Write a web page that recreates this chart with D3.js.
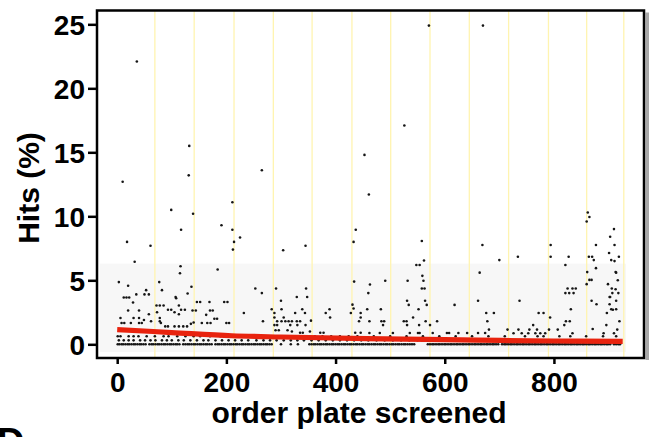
<!DOCTYPE html>
<html>
<head>
<meta charset="utf-8">
<script src="https://cdn.jsdelivr.net/npm/d3@7"></script>
<style>
  body { margin: 0; background: #fff; }
  text { font-family: "Liberation Sans", Arial, Helvetica, sans-serif; font-weight: bold; fill: #000; }
</style>
</head>
<body>
<svg id="chart"></svg>
<script>
/* données */
const yTicks = [0, 5, 10, 15, 20, 25]
const xTicks = [0, 200, 400, 600, 800]

// limites des lots de plaques (lignes jaunes)
const batchEdges = [69, 141, 214, 286, 357, 430, 501, 573, 645, 717, 790, 860, 928]

// plaques sans hit
const zeroX = [1, 4, 8, 11, 15, 19, 22, 26, 30, 33, 37, 41, 44, 48, 52, 59, 63, 66, 70, 74, 77, 81, 85, 88, 92, 96,
  99, 103, 107, 110, 114, 121, 125, 129, 132, 136, 140, 143, 147, 151, 154, 158, 162, 165, 169, 173, 180, 184,
  187, 191, 195, 198, 202, 206, 209, 213, 217, 220, 224, 228, 231, 235, 239, 242, 246, 250, 253, 257, 261, 264,
  268, 272, 275, 279, 283, 300, 318, 331, 352, 356, 360, 363, 367, 371, 374, 378, 382, 385, 389, 393, 396, 400,
  404, 407, 411, 415, 418, 422, 426, 429, 433, 437, 440, 444, 448, 451, 455, 459, 462, 466, 470, 473, 477, 481,
  484, 488, 492, 495, 499, 503, 506, 510, 514, 517, 521, 525, 528, 532, 536, 540, 544, 569, 573, 577, 580, 584,
  588, 591, 595, 599, 602, 606, 610, 613, 617, 621, 624, 628, 632, 635, 639, 643, 646, 650, 654, 657, 661, 665,
  668, 672, 676, 679, 683, 687, 690, 694, 698, 705, 709, 712, 716, 720, 723, 727, 731, 734, 738, 742, 745, 749,
  753, 756, 760, 764, 767, 771, 775, 778, 782, 786, 789, 793, 797, 800, 804, 808, 811, 815, 819, 822, 826, 830,
  833, 837, 841, 844, 848, 852, 855, 859, 863, 866, 870, 874, 877, 881, 885, 888, 892, 896, 899, 903, 910, 914,
  918, 921]

// plaques à 1 hit (~0.31 %) et 2 hits (~0.63 %)
const oneHitX = [3, 12, 21, 30, 42, 51, 61, 70, 82, 91, 100, 112, 122, 134, 146, 158, 167, 180, 192, 204, 216, 228,
  240, 255, 268, 280, 292, 305, 318, 330, 342, 356, 369, 382, 395, 408, 421, 434, 447, 460, 475, 490, 505, 520,
  535, 550, 565, 580, 595, 610, 625, 640, 655, 670, 685, 700, 715, 730, 745, 760, 775, 790, 805, 820, 835, 850,
  865, 880, 895, 912]
const twoHitX = [1, 6, 21, 30, 39, 54, 69, 85, 94, 110, 125, 140, 152, 170, 189, 207, 222, 236, 250, 262, 276, 290,
  303, 316, 332, 348, 362, 376, 392, 408, 424, 440, 470, 500, 530, 560, 590, 620, 650, 680, 710, 747, 770, 781,
  810, 830, 859, 890, 914]

// autres plaques : ordre et % de hits
const hitX = [10, 36, 132, 131, 99, 139, 211, 265, 571, 670, 526, 453, 461, 862, 865, 860,
  18, 117, 61, 32, 191, 211, 214, 212, 225, 116, 115, 184, 304, 345, 437, 433, 434,
  558, 562, 554, 548, 669, 700, 734, 794, 794, 827, 910, 903, 877, 911, 901, 864, 870, 919, 873, 905, 911,
  821, 664, 877, 861, 913, 865, 869, 860, 899, 825, 834, 840, 821, 828, 836, 906, 907, 918, 902, 737, 869,
  878, 902, 905, 914, 831, 897, 772, 781, 793, 822, 829, 920, 819, 762, 715, 735, 755, 769, 791, 807, 896, 916,
  726, 741, 753, 766, 775, 784, 834, 891, 910, 914, 917, 913, 903, 914, 908, 871,
  559, 561, 558, 563, 532, 491, 463, 460, 661, 618, 531, 534, 564, 567, 552, 458, 483, 542, 462, 484, 489, 525,
  530, 565, 586, 676, 690, 678, 681, 487, 531, 553, 573, 462, 481, 505, 536, 551, 554, 578, 604, 608, 625, 641,
  661, 674,
  253, 265, 291, 346, 300, 329, 348, 232, 283, 301, 339, 288, 326, 344, 267, 288, 305, 293, 301, 308, 314, 320,
  329, 335, 355, 288, 293, 317, 330, 345, 290, 296, 312, 320, 335, 340, 353, 372, 378, 382, 389, 390, 431, 433,
  428, 446, 443, 446, 436, 446,
  3, 20, 77, 82, 53, 35, 50, 58, 136, 12, 17, 22, 108, 29, 72, 78, 85, 113, 146, 152, 169, 196, 202, 20, 40, 58,
  73, 93, 99, 105, 113, 117, 124, 138, 144, 170, 175, 163, 6, 30, 40, 49, 62, 78, 78, 8, 13, 25, 40, 45, 80, 88,
  93, 105, 113, 121, 128, 135, 140, 155, 165, 171, 178, 183, 200, 205, 129, 107]
const hitY = [12.7, 22.1, 15.5, 13.2, 10.5, 10.2, 11.1, 13.6, 24.9, 24.9, 17.1, 14.8, 11.7, 10.3, 9.95, 9.6,
  8.0, 8.95, 7.7, 6.45, 9.3, 8.95, 8.0, 7.4, 8.35, 6.1, 5.55, 5.85, 7.35, 7.7, 8.95, 8.0, 4.9,
  8.07, 6.55, 6.2, 6.2, 7.76, 6.58, 6.84, 7.76, 6.84, 6.84, 9.0, 8.4, 7.76, 7.76, 7.13, 6.84, 6.84, 6.84, 6.58, 6.58, 6.5,
  6.2, 5.6, 5.95, 5.64, 5.64, 5.03, 5.03, 4.7, 4.7, 4.36, 4.36, 4.36, 4.0, 4.0, 4.0, 4.36, 4.0, 4.0, 3.7, 3.4, 3.4,
  3.13, 3.13, 2.74, 2.74, 2.74, 2.45, 2.45, 2.45, 2.1, 1.8, 1.8, 1.8, 1.5, 1.5, 1.15, 1.15, 1.15, 1.15, 1.15, 1.15, 1.5, 1.15,
  0.86, 0.86, 0.86, 0.86, 0.86, 0.86, 0.86, 0.86, 0.86, 5.6, 5.0, 4.3, 3.7, 3.4, 2.7, 1.2,
  5.35, 4.96, 4.36, 4.36, 4.96, 4.96, 4.67, 4.0, 3.4, 3.08, 3.4, 3.08, 3.4, 3.08, 2.74, 2.74, 2.74, 2.1, 1.8, 1.8, 1.8, 1.8,
  1.8, 1.8, 1.8, 2.45, 2.45, 1.8, 1.15, 1.5, 1.5, 1.5, 1.5, 0.88, 0.88, 0.88, 0.88, 0.88, 0.88, 0.88, 0.88, 0.88, 0.88, 0.88,
  0.88, 0.88,
  4.36, 4.0, 4.36, 4.36, 3.4, 3.7, 3.7, 2.45, 2.74, 2.74, 2.74, 2.45, 2.45, 2.45, 1.8, 2.1, 2.1, 1.8, 1.8, 1.8, 1.8, 1.8,
  1.8, 1.8, 1.85, 1.5, 1.5, 1.5, 1.5, 1.5, 1.1, 1.1, 1.1, 1.0, 0.9, 0.9, 1.0, 0.9, 0.9, 2.45, 2.74, 2.1, 3.1, 2.8,
  2.45, 2.45, 1.8, 2.1, 0.9, 0.9,
  4.86, 4.57, 4.86, 4.23, 4.23, 3.9, 3.9, 3.9, 4.5, 3.66, 3.66, 3.66, 3.6, 3.27, 3.03, 3.03, 3.03, 3.03, 3.3, 3.3, 3.3, 3.3, 3.3, 2.64, 2.64, 2.35,
  2.5, 2.7, 2.7, 2.5, 2.35, 2.7, 2.7, 2.64, 2.64, 2.64, 2.64, 2.3, 2.05, 2.05, 2.05, 1.9, 1.8, 2.05, 1.8, 1.67, 1.67, 1.67, 1.67, 1.67, 1.67, 1.4,
  1.4, 1.4, 1.4, 1.4, 1.4, 1.6, 1.7, 1.67, 1.67, 1.67, 2.0, 2.0, 1.67, 1.67, 3.97, 3.7]

// courbe de tendance (rouge)
const trendX = [0, 100, 210, 300, 457, 600, 703, 800, 926]
const trendY = [1.15, 0.92, 0.67, 0.57, 0.44, 0.36, 0.30, 0.26, 0.23]

const width = 655, height = 437
const frame = {left: 97, right: 644, top: 10.5, bottom: 358}

let svg = d3.select('#chart').attr('width', width).attr('height', height)

/* échelles */
const xScale = d3.scaleLinear()
                 .domain([-37, 965])
                 .range([frame.left, frame.right])
const yScale = d3.scaleLinear()
                 .domain([-1.07, 26.08])
                 .range([frame.bottom, frame.top])

/* fond gris très léger de la zone dense */
svg.append('rect')
   .attr('x', frame.left + 3)
   .attr('y', yScale(6.3))
   .attr('width', xScale(932) - frame.left - 3)
   .attr('height', yScale(-0.6) - yScale(6.3))
   .attr('fill', '#f7f7f7')

/* lignes jaunes des lots */
svg.selectAll('line.batch')
   .data(batchEdges)
   .enter()
   .append('line')
   .attr('class', 'batch')
   .attr('x1', d => xScale(d))
   .attr('x2', d => xScale(d))
   .attr('y1', frame.top)
   .attr('y2', frame.bottom)
   .attr('stroke', '#fff4b0')
   .attr('stroke-width', 1.3)

/* points */
const points = []
zeroX.forEach(x => points.push([x, 0]))
oneHitX.forEach(x => points.push([x, 0.31]))
twoHitX.forEach(x => points.push([x, 0.63]))
hitX.forEach((x, i) => points.push([x, hitY[i]]))

svg.append('g')
   .selectAll('circle')
   .data(points)
   .enter()
   .append('circle')
   .attr('cx', d => xScale(d[0]))
   .attr('cy', d => yScale(d[1]))
   .attr('r', 1.3)
   .attr('fill', '#151515')

/* tendance */
const trend = trendX.map((x, i) => [x, trendY[i]])
svg.append('path')
   .datum(trend)
   .attr('d', d3.line()
                .x(d => xScale(d[0]))
                .y(d => yScale(d[1]))
                .curve(d3.curveMonotoneX))
   .attr('fill', 'none')
   .attr('stroke', '#e8230e')
   .attr('stroke-width', 5.2)

/* cadre + ombre */
svg.append('rect')
   .attr('x', frame.right + 1.5)
   .attr('y', frame.top + 2)
   .attr('width', 3.5)
   .attr('height', frame.bottom - frame.top)
   .attr('fill', '#a8a8a8')
svg.append('rect')
   .attr('x', frame.left)
   .attr('y', frame.top)
   .attr('width', frame.right - frame.left)
   .attr('height', frame.bottom - frame.top)
   .attr('fill', 'none')
   .attr('stroke', '#000')
   .attr('stroke-width', 2.5)

/* axes */
let yAxis = d3.axisLeft(yScale).tickValues(yTicks).tickSize(9).tickPadding(3)
let gy = svg.append('g')
            .attr('transform', 'translate(' + frame.left + ',0)')
            .call(yAxis)
gy.select('.domain').remove()
gy.selectAll('line').attr('stroke-width', 2.5)
gy.selectAll('text').style('font-size', '28px').attr('dy', '0.36em')

let xAxis = d3.axisBottom(xScale).tickValues(xTicks).tickSize(6).tickPadding(8)
let gx = svg.append('g')
            .attr('transform', 'translate(0,' + frame.bottom + ')')
            .call(xAxis)
gx.select('.domain').remove()
gx.selectAll('line').attr('stroke-width', 2.5)
gx.selectAll('text').style('font-size', '28px')

/* titres */
svg.append('text')
   .attr('transform', 'rotate(-90)')
   .attr('x', -188)
   .attr('y', 38.5)
   .attr('text-anchor', 'middle')
   .style('font-size', '30px')
   .text('Hits (%)')

svg.append('text')
   .attr('x', 359)
   .attr('y', 423)
   .attr('text-anchor', 'middle')
   .style('font-size', '30px')
   .text('order plate screened')

// lettre du panneau suivant, coupée en bas comme sur la figure
svg.append('text')
   .attr('x', -3)
   .attr('y', 455)
   .style('font-size', '38px')
   .text('D')
</script>
</body>
</html>
